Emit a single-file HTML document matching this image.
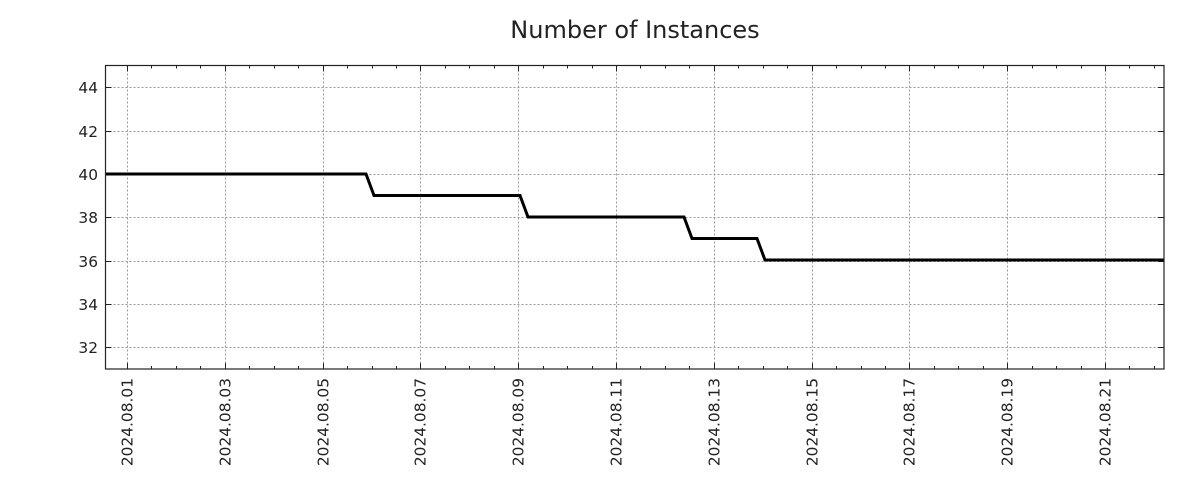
<!DOCTYPE html>
<html><head><meta charset="utf-8"><style>
body{margin:0;background:#fff;}
svg{display:block;font-family:"DejaVu Sans","Liberation Sans",sans-serif;}
</style></head><body>
<svg id="s" width="1200" height="500" viewBox="0 0 1200 500">
<rect width="1200" height="500" fill="#fff"/>
<text x="635" y="38" font-size="24" text-anchor="middle" fill="#222">Number of Instances</text>
<g id="grid" stroke="#999" stroke-width="1" stroke-dasharray="2,2"></g>
<g id="ticks" stroke="#222" stroke-width="1"></g>
<g id="labels" font-size="15.4" fill="#222"></g>
<polyline fill="none" stroke="#000" stroke-width="3" points="105,174 366,174 374,195.5 520,195.5 528,217 684,217 692,238.5 757,238.5 765,260 1164,260"/>
<rect x="105.5" y="65.5" width="1058.5" height="303.5" fill="none" stroke="#222" stroke-width="1.2"/>
</svg>
<script>
var ns="http://www.w3.org/2000/svg";
function el(p,t,a,txt){var e=document.createElementNS(ns,t);for(var k in a)e.setAttribute(k,a[k]);if(txt)e.textContent=txt;document.getElementById(p).appendChild(e);}
var L=105.5,R=1164,T=65.5,B=369;
for(var v=32;v<=44;v+=2){var y=Math.round(369-(v-31)*(303.5/14))+0.5;
el("grid","line",{x1:L,x2:R,y1:y,y2:y});
el("ticks","line",{x1:L,x2:L+6,y1:y,y2:y});el("ticks","line",{x1:R-6,x2:R,y1:y,y2:y});
el("labels","text",{x:98,y:y+5.5,"text-anchor":"end"},""+v);}
var x0=127,d=48.9;
for(var i=-0.5;;i+=0.5){var x=Math.round(x0+i*d)+0.5;if(x>R)break;if(x<L)continue;
var major=(i%2===0);
if(major){el("grid","line",{x1:x,x2:x,y1:T,y2:B});
var dd=1+i;var lab="2024.08."+(dd<10?"0"+dd:dd);
el("labels","text",{x:0,y:0,transform:"translate("+(x+5)+",378) rotate(-90)","text-anchor":"end"},lab);}
var len=major?6:3;
el("ticks","line",{x1:x,x2:x,y1:B-len,y2:B});el("ticks","line",{x1:x,x2:x,y1:T,y2:T+len});}
</script>
</body></html>
